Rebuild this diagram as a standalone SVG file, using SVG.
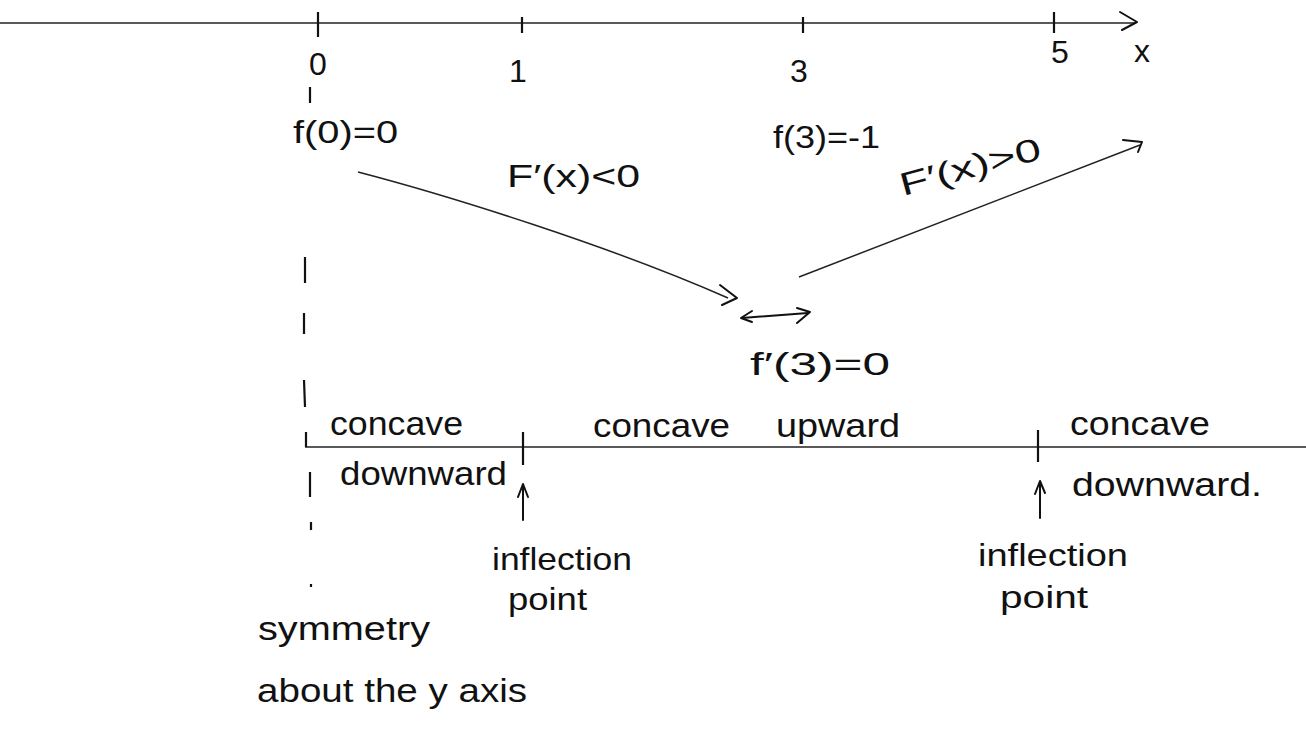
<svg xmlns="http://www.w3.org/2000/svg" width="1306" height="729" viewBox="0 0 1306 729">
<style>
text{font-family:"Liberation Sans","DejaVu Sans",sans-serif;fill:#111;font-size:32px}
.ax{stroke:#222;stroke-width:1.6;fill:none}
.tk{stroke:#111;stroke-width:2.2;fill:none}
.ar{stroke:#222;stroke-width:1.5;fill:none}
.ah{stroke:#111;stroke-width:2;fill:none;stroke-linecap:round;stroke-linejoin:round}
.w{font-size:34px}
</style>
<rect width="1306" height="729" fill="#fff"/>
<g id="x-axis">
<line class="ax" x1="0" y1="23" x2="1136" y2="23"/>
<path class="ah" d="M1120,12 L1137,22 L1122,30"/>
<line class="tk" x1="318" y1="12" x2="318" y2="37"/>
<line class="tk" x1="522" y1="17" x2="522" y2="33"/>
<line class="tk" x1="803" y1="17" x2="803" y2="33"/>
<line class="tk" x1="1054" y1="12" x2="1054" y2="33"/>
<text x="318" y="75" text-anchor="middle" font-size="36">0</text>
<text x="518" y="82" text-anchor="middle" font-size="30">1</text>
<text x="799" y="82" text-anchor="middle" font-size="34">3</text>
<text x="1060" y="63" text-anchor="middle" font-size="25">5</text>
<text x="1142" y="62" text-anchor="middle" font-size="40">x</text>
</g>
<g id="symmetry-line">
<line class="tk" x1="310" y1="87" x2="310" y2="103" stroke-width="1.6"/>
<line class="tk" x1="305" y1="257" x2="305" y2="283"/>
<line class="tk" x1="304" y1="313" x2="304" y2="334"/>
<line class="tk" x1="304" y1="380" x2="305" y2="407"/>
<line class="tk" x1="310" y1="472" x2="310" y2="497" stroke-width="1.6"/>
<line class="tk" x1="311" y1="522" x2="311" y2="530" stroke-width="1.4"/>
<line class="tk" x1="311" y1="584" x2="311" y2="587" stroke-width="1.2"/>
</g>
<g id="f0"><text x="293" y="143" textLength="105" lengthAdjust="spacingAndGlyphs">f(0)=0</text></g>
<g id="f3"><text x="773" y="148" font-size="38" textLength="107" lengthAdjust="spacingAndGlyphs">f(3)=-1</text></g>
<g id="fprime-neg"><text x="507" y="187" textLength="133" lengthAdjust="spacingAndGlyphs">F′(x)&lt;0</text></g>
<g id="fprime-pos"><text x="903" y="196" textLength="145" lengthAdjust="spacingAndGlyphs" transform="rotate(-15 903 196)">F′(x)&gt;0</text></g>
<g id="fprime3"><text x="750" y="375" font-size="36" textLength="140" lengthAdjust="spacingAndGlyphs">f′(3)=0</text></g>
<g id="connectors">
<path class="ar" d="M358,172 C450,196 610,246 728,298"/>
<path class="ah" d="M720,285 L737,298 L722,305"/>
<line class="ar" x1="799" y1="277" x2="1140" y2="145" stroke="#555"/>
<path class="ah" d="M1123,140 L1142,142 L1138,152"/>
<line class="ah" x1="742" y1="318" x2="808" y2="313"/>
<path class="ah" d="M752,311 L741,318 L752,322"/>
<path class="ah" d="M797,308 L810,312 L797,323"/>
<line class="ah" x1="523" y1="520" x2="523" y2="485"/>
<path class="ah" d="M518,497 L523,484 L528,497"/>
<line class="ah" x1="1040" y1="518" x2="1040" y2="482"/>
<path class="ah" d="M1035,494 L1040,481 L1045,493"/>
</g>
<g id="concavity-axis">
<line class="ax" x1="305" y1="447" x2="1306" y2="447"/>
<line class="tk" x1="306" y1="432" x2="306" y2="447"/>
<line class="tk" x1="523" y1="432" x2="523" y2="465"/>
<line class="tk" x1="1038" y1="430" x2="1038" y2="462"/>
</g>
<g id="left-region">
<text class="w" x="330" y="435" textLength="133" lengthAdjust="spacingAndGlyphs">concave</text>
<text class="w" x="340" y="485" textLength="167" lengthAdjust="spacingAndGlyphs">downward</text>
</g>
<g id="mid-region">
<text class="w" x="593" y="437" textLength="137" lengthAdjust="spacingAndGlyphs">concave</text>
<text class="w" x="776" y="437" textLength="124" lengthAdjust="spacingAndGlyphs">upward</text>
</g>
<g id="right-region">
<text class="w" x="1070" y="435" textLength="140" lengthAdjust="spacingAndGlyphs">concave</text>
<text class="w" x="1072" y="496" font-size="38" textLength="190" lengthAdjust="spacingAndGlyphs">downward.</text>
</g>
<g id="inflection-left">
<text x="492" y="570" textLength="140" lengthAdjust="spacingAndGlyphs">inflection</text>
<text x="508" y="610" textLength="79" lengthAdjust="spacingAndGlyphs">point</text>
</g>
<g id="inflection-right">
<text x="978" y="566" textLength="150" lengthAdjust="spacingAndGlyphs">inflection</text>
<text x="1000" y="608" textLength="88" lengthAdjust="spacingAndGlyphs">point</text>
</g>
<g id="symmetry-note">
<text class="w" x="258" y="640" textLength="172" lengthAdjust="spacingAndGlyphs">symmetry</text>
<text class="w" x="257" y="702" textLength="270" lengthAdjust="spacingAndGlyphs">about the y axis</text>
</g>
</svg>
